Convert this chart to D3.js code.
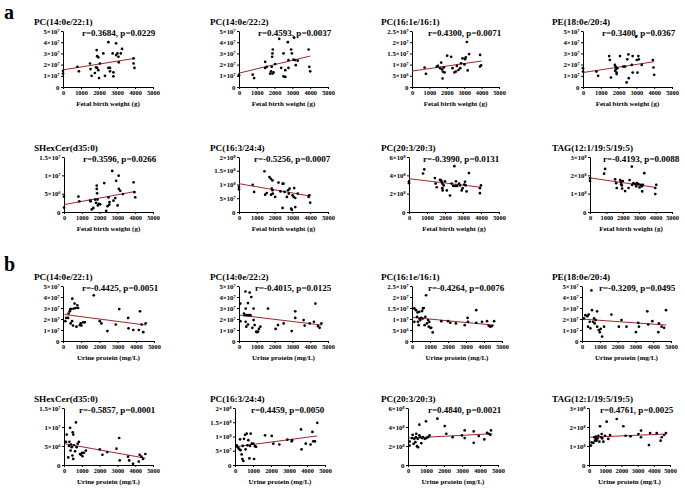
<!DOCTYPE html>
<html><head><meta charset="utf-8">
<script src="https://cdn.jsdelivr.net/npm/d3@7"></script>
<style>body{margin:0;background:#fff}svg{display:block;font-family:"Liberation Serif","Times New Roman",serif}</style>
</head><body><svg id="c" width="685" height="491"></svg>
<script>
const lipidNames = ["PC(14:0e/22:1)","PC(14:0e/22:2)","PC(16:1e/16:1)","PE(18:0e/20:4)","SHexCer(d35:0)","PC(16:3/24:4)","PC(20:3/20:3)","TAG(12:1/19:5/19:5)"];
const yMax = [5e7,5e7,2.5e7,5e7,1.5e7,2e8,6e8,3e8];
const yTicks = [
  [0,1e7,2e7,3e7,4e7,5e7],[0,1e7,2e7,3e7,4e7,5e7],[0,5e6,1e7,1.5e7,2e7,2.5e7],[0,1e7,2e7,3e7,4e7,5e7],
  [0,5e6,1e7,1.5e7],[0,5e7,1e8,1.5e8,2e8],[0,2e8,4e8,6e8],[0,1e8,2e8,3e8]];
const yTickLabels = [
  ["0","1×10⁷","2×10⁷","3×10⁷","4×10⁷","5×10⁷"],["0","1×10⁷","2×10⁷","3×10⁷","4×10⁷","5×10⁷"],
  ["0","5×10⁶","1×10⁷","1.5×10⁷","2×10⁷","2.5×10⁷"],["0","1×10⁷","2×10⁷","3×10⁷","4×10⁷","5×10⁷"],
  ["0","5×10⁶","1×10⁷","1.5×10⁷"],["0","5×10⁷","1×10⁸","1.5×10⁸","2×10⁸"],
  ["0","2×10⁸","4×10⁸","6×10⁸"],["0","1×10⁸","2×10⁸","3×10⁸"]];
const xTicks = [0,1000,2000,3000,4000,5000];
const xTitles = ["Fetal birth weight (g)","Urine protein (mg/L)"];
const sectionLabels = ["a","b"];
const statsA = ["r=0.3684, p=0.0229","r=0.4593, p=0.0037","r=0.4300, p=0.0071","r=0.3400, p=0.0367",
  "r=0.3596, p=0.0266","r=-0.5256, p=0.0007","r=-0.3990, p=0.0131","r=-0.4193, p=0.0088"];
const statsB = ["r=-0.4425, p=0.0051","r=-0.4015, p=0.0125","r=-0.4264, p=0.0076","r=-0.3209, p=0.0495",
  "r=-0.5857, p=0.0001","r=0.4459, p=0.0050","r=0.4840, p=0.0021","r=0.4761, p=0.0025"];
// fitted line endpoints [x0, y0, x1, y1]
const fitA = [[0,1.53e7,4000,2.56e7],[0,1.24e7,4000,2.76e7],[0,0.71e7,4000,1.16e7],[0,1.29e7,4000,2.26e7],
  [0,0.2e7,4000,0.56e7],[0,1.03e8,4000,0.58e8],[0,3.63e8,4000,2.7e8],[0,1.86e8,4000,1.34e8]];
const fitB = [[90,2.41e7,4540,1.45e7],[40,2.35e7,4660,1.45e7],[55,1.07e7,4570,0.72e7],[55,1.99e7,4720,1.45e7],
  [55,0.56e7,4570,0.18e7],[40,0.64e8,4570,1.02e8],[40,2.83e8,4680,3.29e8],[60,1.46e8,4750,1.63e8]];

const ptsA1 = [[0,1.44e7],[0,1.2e7],[800,1.8e7],[880,1.4e7],[1500,2.1e7],[1530,1.6e7],[1590,1.0e7],[1770,1.25e7],[1830,1.75e7],[1870,3.3e7],[1900,2.75e7],[1960,2.65e7],[1900,1.7e7],[1960,1.5e7],[2000,0.8e7],[2050,2.1e7],[2240,3.0e7],[2330,1.0e7],[2520,4.0e7],[2520,1.7e7],[2610,1.7e7],[2610,1.4e7],[2760,3.0e7],[2800,1.3e7],[2800,0.95e7],[2950,3.9e7],[2950,2.85e7],[3020,3.0e7],[3080,2.7e7],[3100,2.2e7],[3210,3.0e7],[3280,3.4e7],[3920,2.55e7],[3920,2.1e7],[3970,1.7e7]];
const ptsA2 = [[0,1.1e7],[0,1.0e7],[770,1.1e7],[850,0.8e7],[1470,2.25e7],[1470,1.7e7],[1560,1.8e7],[1750,1.2e7],[1800,1.4e7],[1840,1.8e7],[1860,2.7e7],[1880,3.0e7],[1900,3.35e7],[1880,1.2e7],[1940,1.3e7],[2030,2.05e7],[2260,4.3e7],[2370,1.7e7],[2500,3.0e7],[2500,0.95e7],[2600,0.9e7],[2600,1.5e7],[2740,4.0e7],[2780,1.7e7],[2780,2.4e7],[2930,3.35e7],[2970,3.0e7],[3060,2.45e7],[3100,4.4e7],[3150,2.4e7],[3190,1.95e7],[3300,2.35e7],[3910,3.35e7],[3950,1.8e7],[4000,1.4e7]];
const ptsA3 = [[725,0.87e7],[800,0.59e7],[1430,0.91e7],[1490,0.94e7],[1620,0.84e7],[1680,1.09e7],[1720,0.79e7],[1755,0.38e7],[1775,0.69e7],[1830,0.87e7],[1870,0.65e7],[2020,1.40e7],[2250,1.35e7],[2330,0.84e7],[2440,0.65e7],[2520,0.69e7],[2580,0.94e7],[2670,0.76e7],[2770,0.84e7],[2820,1.06e7],[2900,1.28e7],[3015,1.01e7],[3050,1.24e7],[3090,1.32e7],[3150,2.01e7],[3200,0.74e7],[3280,1.47e7],[3910,1.43e7],[3910,0.91e7],[3970,0.97e7]];
const ptsA4 = [[0,1.68e7],[0,1.38e7],[755,1.38e7],[850,1.0e7],[1470,2.76e7],[1510,2.41e7],[1570,0.85e7],[1790,1.97e7],[1830,1.82e7],[1810,1.44e7],[1850,1.59e7],[1890,1.29e7],[1890,1.15e7],[1925,1.68e7],[2075,2.76e7],[2260,1.82e7],[2360,1.82e7],[2450,0.41e7],[2490,2.47e7],[2550,2.91e7],[2570,0.79e7],[2740,1.97e7],[2790,1.29e7],[2790,2.76e7],[2980,4.5e7],[3020,2.41e7],[3060,1.29e7],[3110,2.76e7],[3130,2.47e7],[3300,1.97e7],[3920,2.41e7],[3960,1.74e7],[4000,1.09e7]];
const ptsA5 = [[0,0.42e7],[0,0.12e7],[810,0.42e7],[860,0.29e7],[1470,0.31e7],[1500,0.29e7],[1560,0.07e7],[1650,0.11e7],[1750,0.34e7],[1800,0.25e7],[1840,0.72e7],[1840,0.63e7],[1860,0.51e7],[1880,0.34e7],[1900,0.18e7],[1950,0.22e7],[2030,0.21e7],[2260,0.79e7],[2370,0.03e7],[2450,0.16e7],[2500,0.40e7],[2540,0.20e7],[2560,0.27e7],[2710,1.12e7],[2780,0.31e7],[2880,0.38e7],[2930,0.85e7],[3010,0.18e7],[3070,0.99e7],[3080,0.63e7],[3160,0.58e7],[3310,0.49e7],[3910,0.81e7],[3950,0.54e7],[4000,0.40e7]];
const ptsA6 = [[0,0.91e8],[0,0.82e8],[770,0.99e8],[850,0.73e8],[1430,1.48e8],[1470,0.63e8],[1560,0.69e8],[1710,1.27e8],[1790,1.21e8],[1800,0.63e8],[1840,0.85e8],[1880,1.15e8],[1880,0.79e8],[1900,0.67e8],[2030,0.55e8],[2220,1.07e8],[2330,0.75e8],[2450,1.03e8],[2500,1.03e8],[2450,0.15e8],[2560,0.73e8],[2690,0.55e8],[2760,0.79e8],[2800,0.67e8],[2840,0.85e8],[2930,0.12e8],[2970,0.08e8],[3010,0.61e8],[3070,0.55e8],[3100,0.87e8],[3160,0.18e8],[3160,0.51e8],[3300,0.67e8],[3910,0.55e8],[3950,0.61e8],[4000,0.34e8]];
const ptsA7 = [[0,3.35e8],[0,3.15e8],[780,4.2e8],[850,4.65e8],[1440,3.7e8],[1480,3.1e8],[1540,2.7e8],[1720,3.5e8],[1780,3.45e8],[1820,3.3e8],[1850,3.1e8],[1850,2.6e8],[1870,2.35e8],[1930,2.9e8],[2000,3.35e8],[2100,2.35e8],[2280,1.8e8],[2370,3.1e8],[2460,2.85e8],[2520,5.0e8],[2560,2.85e8],[2610,3.35e8],[2670,2.85e8],[2780,3.1e8],[2830,2.9e8],[2930,2.35e8],[2980,2.6e8],[3070,3.0e8],[3110,3.3e8],[3150,2.9e8],[3200,2.25e8],[3330,4.25e8],[3940,2.6e8],[3940,2.05e8],[4000,2.9e8]];
const ptsA8 = [[0,1.69e8],[0,1.83e8],[860,2.09e8],[920,2.35e8],[1530,1.78e8],[1590,1.57e8],[1630,1.31e8],[1840,1.74e8],[1880,1.66e8],[1900,1.52e8],[1940,1.45e8],[2000,1.69e8],[1960,1.28e8],[2140,1.14e8],[2350,1.31e8],[2410,1.74e8],[2550,2.48e8],[2570,1.48e8],[2650,1.57e8],[2760,1.52e8],[2820,1.40e8],[2860,1.57e8],[2960,1.52e8],[3020,1.34e8],[3100,1.48e8],[3160,1.40e8],[3180,1.12e8],[3220,1.48e8],[3310,2.12e8],[3980,1.31e8],[3980,0.98e8],[4040,1.48e8]];
const ptsB1 = [[130,1.8e7],[180,2.1e7],[280,2.1e7],[310,2.5e7],[370,2.7e7],[400,2.9e7],[460,2.9e7],[420,1.6e7],[500,1.8e7],[510,3.85e7],[550,1.4e7],[590,2.95e7],[640,3.4e7],[700,3.0e7],[740,1.3e7],[790,3.25e7],[830,3.0e7],[920,1.45e7],[970,1.6e7],[1010,1.4e7],[1100,1.7e7],[1190,1.7e7],[1690,4.15e7],[2020,1.8e7],[2110,1.6e7],[2440,0.9e7],[2900,1.5e7],[3090,2.9e7],[3580,2.1e7],[3600,1.15e7],[3860,1.0e7],[4170,1.0e7],[4230,2.7e7],[4320,1.5e7],[4410,0.8e7],[4540,1.6e7]];
const ptsB2 = [[75,3.4e7],[75,1.8e7],[280,2.5e7],[320,2.35e7],[360,4.5e7],[375,2.95e7],[375,1.75e7],[410,1.3e7],[450,2.35e7],[505,3.45e7],[505,1.5e7],[560,2.35e7],[600,4.4e7],[640,2.35e7],[690,4.0e7],[750,1.2e7],[820,2.95e7],[820,1.9e7],[880,1.45e7],[970,0.85e7],[1010,0.8e7],[1070,0.85e7],[1120,1.1e7],[1200,1.3e7],[1630,2.95e7],[2060,1.1e7],[2190,1.45e7],[2510,1.6e7],[2960,0.9e7],[3160,2.7e7],[3160,2.1e7],[3630,1.9e7],[3690,1.4e7],[3970,1.6e7],[4210,1.75e7],[4290,3.4e7],[4440,1.35e7],[4530,1.2e7],[4630,1.6e7]];
const ptsB3 = [[130,0.87e7],[130,1.48e7],[220,1.4e7],[280,1.1e7],[310,1.3e7],[330,0.87e7],[370,0.72e7],[410,1.02e7],[410,1.33e7],[460,0.95e7],[520,1.05e7],[560,1.36e7],[590,1.02e7],[610,1.48e7],[650,1.5e7],[700,0.72e7],[740,1.1e7],[780,2.08e7],[830,0.8e7],[890,0.95e7],[930,0.65e7],[960,0.87e7],[1020,0.6e7],[1070,0.6e7],[1150,0.39e7],[1630,0.9e7],[2000,0.9e7],[2130,0.83e7],[2440,0.8e7],[2930,0.72e7],[3090,1.05e7],[3110,0.87e7],[3570,1.4e7],[3570,0.83e7],[3890,0.87e7],[4170,0.9e7],[4260,0.69e7],[4350,0.65e7],[4440,0.68e7],[4560,0.9e7]];
const ptsB4 = [[110,2.05e7],[190,2.35e7],[300,2.25e7],[340,1.3e7],[375,2.4e7],[430,1.75e7],[470,1.15e7],[530,4.6e7],[560,2.8e7],[620,1.75e7],[680,2.05e7],[710,1.6e7],[770,1.9e7],[850,2.7e7],[850,1.3e7],[940,1.0e7],[1000,0.8e7],[1050,1.1e7],[1130,0.4e7],[1240,1.3e7],[1650,2.4e7],[2070,1.3e7],[2220,1.9e7],[2500,1.3e7],[3030,0.8e7],[3160,1.65e7],[3200,1.3e7],[3670,2.7e7],[3720,1.5e7],[3950,1.8e7],[4290,0.8e7],[4320,1.6e7],[4470,1.3e7],[4610,1.2e7],[4720,2.8e7]];
const ptsB5 = [[110,0.61e7],[150,0.8e7],[240,0.2e7],[280,0.5e7],[300,0.61e7],[340,0.98e7],[370,0.38e7],[390,0.54e7],[430,0.47e7],[470,0.25e7],[490,0.86e7],[520,0.8e7],[520,0.16e7],[560,0.52e7],[620,0.36e7],[670,1.12e7],[710,0.47e7],[770,0.56e7],[840,0.61e7],[900,0.29e7],[950,0.27e7],[1010,0.32e7],[1040,0.23e7],[1120,0.32e7],[1230,0.38e7],[2010,0.41e7],[2160,0.27e7],[2430,0.34e7],[2950,0.43e7],[3100,0.71e7],[3130,0.12e7],[3600,0.22e7],[3660,0.12e7],[3880,0.03e7],[4200,0.09e7],[4250,0.27e7],[4350,0.22e7],[4440,0.16e7],[4570,0.29e7]];
const ptsB6 = [[90,0.69e8],[130,0.64e8],[190,0.6e8],[240,0.55e8],[280,0.9e8],[310,0.52e8],[370,0.37e8],[410,0.21e8],[430,0.67e8],[460,0.14e8],[500,0.92e8],[560,1.06e8],[590,0.55e8],[650,1.1e8],[690,0.69e8],[740,0.87e8],[800,0.23e8],[830,0.67e8],[870,1.1e8],[930,0.75e8],[1020,0.75e8],[1060,0.21e8],[1110,0.66e8],[1170,0.64e8],[1670,1.04e8],[2040,1.02e8],[2130,0.75e8],[2460,0.72e8],[2910,0.89e8],[3150,0.83e8],[3170,0.87e8],[3670,1.25e8],[3700,0.55e8],[3930,0.75e8],[4200,0.72e8],[4300,1.16e8],[4350,0.83e8],[4440,0.83e8],[4570,1.48e8]];
const ptsB7 = [[90,2.05e8],[90,2.47e8],[220,2.83e8],[260,3.18e8],[310,2.23e8],[350,2.76e8],[410,2.4e8],[440,2.93e8],[460,3.29e8],[500,1.98e8],[540,2.76e8],[560,1.87e8],[630,4.24e8],[630,3.11e8],[690,2.93e8],[740,2.3e8],[780,2.83e8],[830,2.93e8],[930,2.76e8],[1000,4.6e8],[1020,2.83e8],[1110,2.93e8],[1200,3.11e8],[1630,4.88e8],[2040,4.1e8],[2130,3.29e8],[2480,2.93e8],[3000,3.11e8],[3150,3.64e8],[3150,2.83e8],[3650,3.53e8],[3650,2.33e8],[3930,3.04e8],[4240,2.69e8],[4390,3.39e8],[4480,3.29e8],[4610,3.64e8],[4570,3.18e8]];
const ptsB8 = [[120,1.02e8],[160,1.19e8],[270,1.16e8],[330,1.46e8],[370,1.28e8],[410,1.37e8],[430,1.49e8],[470,1.28e8],[530,1.4e8],[580,1.54e8],[640,1.23e8],[680,2.04e8],[740,1.46e8],[780,1.63e8],[820,1.4e8],[890,1.23e8],[990,1.54e8],[1090,2.28e8],[1190,1.37e8],[1300,1.58e8],[1710,2.42e8],[2120,2.04e8],[2260,1.54e8],[2570,1.51e8],[3050,1.63e8],[3210,1.81e8],[3210,1.46e8],[3700,1.05e8],[3770,1.68e8],[4180,1.68e8],[4420,1.28e8],[4490,1.46e8],[4630,1.58e8],[4750,1.68e8]];
const ptsA = [ptsA1,ptsA2,ptsA3,ptsA4,ptsA5,ptsA6,ptsA7,ptsA8];
const ptsB = [ptsB1,ptsB2,ptsB3,ptsB4,ptsB5,ptsB6,ptsB7,ptsB8];

// ---- layout ----
const rowTop = [31,157,286,408], rowBot = [87,212,341,465];
const panelX0 = [[63,239,412,583],[64,239,409,590],[63,239,412,582],[64,235,408,589]];
const panelX1 = [[153,328,499,672],[153,328,499,672],[154,328,502,671],[153,325,498,670]];
const titleX = [34,210,381,552];
const statX = [[82,258,428,602],[83,254,423,603],[82,255,428,599],[79,251,428,600]];
const sectionY = [19,271];

const svg = d3.select("#c");
const FONT_BOLD = 700;
const lineColor = "#a3262a";

sectionLabels.forEach((s,i)=>{
  svg.append("text").attr("x",4).attr("y",sectionY[i]).attr("font-size",20).attr("font-weight",FONT_BOLD).text(s);
});

for (let row=0; row<4; row++){
  for (let col=0; col<4; col++){
    const section = row<2 ? 0 : 1;
    const li = (row%2)*4 + col;
    const pts = section===0 ? ptsA[li] : ptsB[li];
    const fit = section===0 ? fitA[li] : fitB[li];
    const stat = section===0 ? statsA[li] : statsB[li];
    const x = d3.scaleLinear().domain([0,5000]).range([panelX0[row][col], panelX1[row][col]]);
    const y = d3.scaleLinear().domain([0,yMax[li]]).range([rowBot[row], rowTop[row]]);
    const g = svg.append("g");
    const ya = g.append("g").attr("transform",`translate(${panelX0[row][col]},0)`)
      .call(d3.axisLeft(y).tickValues(yTicks[li]).tickSize(2).tickSizeOuter(0).tickPadding(1.5)
      .tickFormat((d,i)=>yTickLabels[li][i]));
    const xa = g.append("g").attr("transform",`translate(0,${rowBot[row]})`)
      .call(d3.axisBottom(x).tickValues(xTicks).tickSize(2).tickSizeOuter(0).tickPadding(2).tickFormat(d3.format("d")));
    [ya,xa].forEach(a=>{
      a.select(".domain").attr("stroke","#000").attr("stroke-width",1);
      a.selectAll(".tick line").attr("stroke","#000");
      a.selectAll("text").attr("font-family","Liberation Serif, Times New Roman, serif").attr("font-weight",FONT_BOLD).attr("fill","#000");
    });
    ya.selectAll("text").attr("font-size",6.8);
    xa.selectAll("text").attr("font-size",6.3);
    g.append("line").attr("x1",x(fit[0])).attr("y1",y(fit[1])).attr("x2",x(fit[2])).attr("y2",y(fit[3]))
      .attr("stroke",lineColor).attr("stroke-width",1);
    g.selectAll("circle").data(pts).join("circle")
      .attr("cx",d=>x(d[0])).attr("cy",d=>y(d[1])).attr("r",1.35).attr("fill","#000");
    g.append("text").attr("x",titleX[col]).attr("y",rowTop[row]-6).attr("font-size",9.2).attr("font-weight",FONT_BOLD).text(lipidNames[li]);
    g.append("text").attr("x",statX[row][col]).attr("y",rowTop[row]+5).attr("font-size",9).attr("font-weight",FONT_BOLD).text(stat);
    g.append("text").attr("x",(panelX0[row][col]+panelX1[row][col])/2).attr("y",rowBot[row]+19)
      .attr("text-anchor","middle").attr("font-size",7).attr("font-weight",FONT_BOLD).text(xTitles[section]);
  }
}
</script></body></html>
